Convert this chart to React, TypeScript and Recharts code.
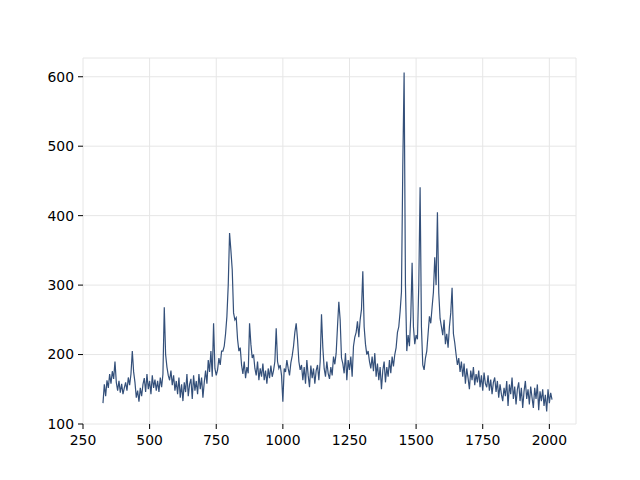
import { LineChart, Line, XAxis, YAxis, CartesianGrid } from "recharts";

// Raman shift (cm-1) sampled every 5 units
const shift = [
  325, 330, 335, 340, 345, 350, 355, 360, 365, 370,
  375, 380, 385, 390, 395, 400, 405, 410, 415, 420,
  425, 430, 435, 440, 445, 450, 455, 460, 465, 470,
  475, 480, 485, 490, 495, 500, 505, 510, 515, 520,
  525, 530, 535, 540, 545, 550, 555, 560, 565, 570,
  575, 580, 585, 590, 595, 600, 605, 610, 615, 620,
  625, 630, 635, 640, 645, 650, 655, 660, 665, 670,
  675, 680, 685, 690, 695, 700, 705, 710, 715, 720,
  725, 730, 735, 740, 745, 750, 755, 760, 765, 770,
  775, 780, 785, 790, 795, 800, 805, 810, 815, 820,
  825, 830, 835, 840, 845, 850, 855, 860, 865, 870,
  875, 880, 885, 890, 895, 900, 905, 910, 915, 920,
  925, 930, 935, 940, 945, 950, 955, 960, 965, 970,
  975, 980, 985, 990, 995, 1000, 1005, 1010, 1015, 1020,
  1025, 1030, 1035, 1040, 1045, 1050, 1055, 1060, 1065, 1070,
  1075, 1080, 1085, 1090, 1095, 1100, 1105, 1110, 1115, 1120,
  1125, 1130, 1135, 1140, 1145, 1150, 1155, 1160, 1165, 1170,
  1175, 1180, 1185, 1190, 1195, 1200, 1205, 1210, 1215, 1220,
  1225, 1230, 1235, 1240, 1245, 1250, 1255, 1260, 1265, 1270,
  1275, 1280, 1285, 1290, 1295, 1300, 1305, 1310, 1315, 1320,
  1325, 1330, 1335, 1340, 1345, 1350, 1355, 1360, 1365, 1370,
  1375, 1380, 1385, 1390, 1395, 1400, 1405, 1410, 1415, 1420,
  1425, 1430, 1435, 1440, 1445, 1450, 1455, 1460, 1465, 1470,
  1475, 1480, 1485, 1490, 1495, 1500, 1505, 1510, 1515, 1520,
  1525, 1530, 1535, 1540, 1545, 1550, 1555, 1560, 1565, 1570,
  1575, 1580, 1585, 1590, 1595, 1600, 1605, 1610, 1615, 1620,
  1625, 1630, 1635, 1640, 1645, 1650, 1655, 1660, 1665, 1670,
  1675, 1680, 1685, 1690, 1695, 1700, 1705, 1710, 1715, 1720,
  1725, 1730, 1735, 1740, 1745, 1750, 1755, 1760, 1765, 1770,
  1775, 1780, 1785, 1790, 1795, 1800, 1805, 1810, 1815, 1820,
  1825, 1830, 1835, 1840, 1845, 1850, 1855, 1860, 1865, 1870,
  1875, 1880, 1885, 1890, 1895, 1900, 1905, 1910, 1915, 1920,
  1925, 1930, 1935, 1940, 1945, 1950, 1955, 1960, 1965, 1970,
  1975, 1980, 1985, 1990, 1995, 2000, 2005, 2010,
];

// intensity
const intensity = [
  130, 157, 140, 163, 152, 172, 158, 176, 165, 190,
  160, 148, 162, 145, 158, 143, 152, 160, 148, 167,
  156, 172, 205, 175, 160, 138, 148, 132, 152, 140,
  157, 166, 146, 172, 150, 162, 143, 170, 152, 164,
  148, 162, 146, 167, 153, 172, 268, 200, 182, 170,
  163, 177, 156, 170, 148, 162, 143, 167, 138, 157,
  133, 160, 146, 172, 140, 157, 165, 136, 170, 148,
  162, 143, 172, 150, 167, 138, 160, 177, 158, 192,
  175, 205, 168, 245, 180, 170, 178, 195, 185, 205,
  205, 212, 230, 255, 300, 375, 350, 322, 260, 250,
  253, 222, 205, 210, 185, 172, 190, 166, 182, 173,
  245, 215, 195, 200, 180, 170, 190, 163, 180, 168,
  187, 163, 177, 158, 180, 166, 184, 168, 177, 190,
  238, 190, 180, 185, 170, 132, 180, 175, 192, 180,
  170, 188, 198, 212, 232, 245, 222, 190, 178, 185,
  163, 182, 158, 192, 170, 153, 184, 166, 180, 158,
  177, 185, 163, 190, 258, 210, 180, 168, 190, 173,
  165, 182, 170, 197, 186, 202, 240, 276, 250, 195,
  187, 173, 202, 163, 192, 178, 197, 168, 212, 225,
  232, 248, 225, 250, 265, 320, 240, 215, 200, 205,
  190, 180, 197, 176, 202, 168, 187, 163, 182, 150,
  177, 190, 160, 182, 168, 192, 173, 197, 183, 200,
  210, 232, 240, 262, 290, 470, 606, 300, 205, 228,
  212, 255, 332, 240, 215, 228, 222, 300, 441, 240,
  185, 178, 195, 205, 230, 255, 245, 268, 290, 340,
  300, 405, 289, 252, 240, 228, 250, 215, 230, 210,
  240, 260, 296, 230, 217, 200, 185, 195, 175, 190,
  168, 187, 158, 180, 166, 150, 177, 163, 182, 156,
  172, 160, 177, 153, 170, 148, 174, 158, 153, 170,
  148, 164, 143, 160, 167, 146, 162, 138, 157, 143,
  133, 152, 140, 162, 126, 157, 143, 167, 136, 154,
  128, 150, 160, 133, 152, 123, 147, 162, 136, 150,
  128, 154, 138, 123, 152, 136, 157, 120, 147, 133,
  150, 126, 142, 118, 150, 130, 145, 135,
];

const xTicks = [250, 500, 750, 1000, 1250, 1500, 1750, 2000];
const yTicks = [100, 200, 300, 400, 500, 600];

const data = shift.map((x, i) => ({ x, y: intensity[i] }));

export default function App() {
  const tickStyle = { fill: "#000", fontSize: 13.9, fontFamily: "DejaVu Sans" };
  return (
    <div style={{ position: "absolute", left: 0, top: 0, width: 640, height: 480, background: "#fff" }}>
      <LineChart
        width={640}
        height={480}
        data={data}
        margin={{ top: 58, right: 64, left: 0, bottom: 0 }}
      >
        <CartesianGrid stroke="#e6e6e6" strokeWidth={1} />
        <XAxis
          dataKey="x"
          type="number"
          domain={[250, 2100]}
          ticks={xTicks}
          allowDataOverflow
          axisLine={false}
          tickLine={{ stroke: "#000" }}
          tickSize={5}
          tickMargin={6}
          height={56}
          tick={tickStyle}
        />
        <YAxis
          type="number"
          domain={[100, 627]}
          ticks={yTicks}
          allowDataOverflow
          axisLine={false}
          tickLine={{ stroke: "#000" }}
          tickSize={5}
          tickMargin={4}
          width={83}
          tick={tickStyle}
        />
        <Line
          type="linear"
          dataKey="y"
          stroke="#34507a"
          strokeWidth={1.2}
          dot={false}
          isAnimationActive={false}
        />
      </LineChart>
    </div>
  );
}
